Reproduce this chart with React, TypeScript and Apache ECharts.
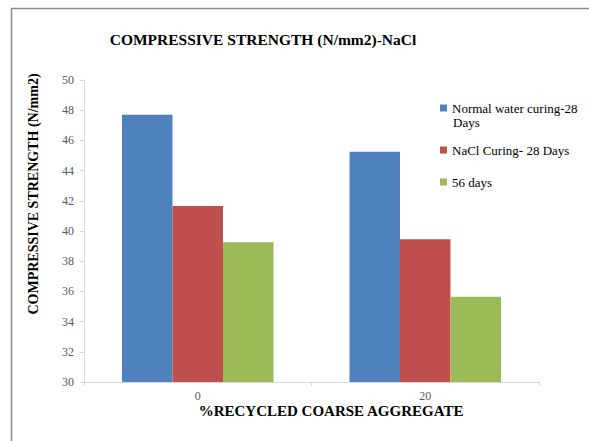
import React, { useEffect, useRef } from "react";
import * as echarts from "echarts";

const categories = ["0", "20"];
const seriesNames = ["Normal water curing-28 Days", "NaCl Curing- 28 Days", "56 days"];
const normalWater = [47.7, 45.25];
const naclCuring = [41.65, 39.45];
const days56 = [39.25, 35.65];
const colors = ["#4F81BD", "#C0504D", "#9BBB59"];

const FONT = "Liberation Serif";

export default function App() {
  const ref = useRef<HTMLDivElement>(null);
  useEffect(() => {
    const chart = echarts.init(ref.current!, null, { renderer: "svg" });
    const values = [normalWater, naclCuring, days56];
    const legendTops = [101, 143, 175];
    chart.setOption({
      animation: false,
      backgroundColor: "#ffffff",
      textStyle: { fontFamily: FONT },
      grid: { left: 84, right: 50, top: 80, bottom: 59, containLabel: false },
      legend: seriesNames.map((n, i) => ({
        left: 440,
        top: legendTops[i],
        padding: 0,
        itemWidth: 7,
        itemHeight: 7,
        icon: "rect",
        data: [n],
        formatter: (name: string) => (i === 0 ? "Normal water curing-28" : name),
        textStyle: { fontFamily: FONT, fontSize: 13, color: "#000", lineHeight: 14 },
        selectedMode: false,
      })),
      xAxis: {
        type: "category",
        data: categories,
        axisLine: { lineStyle: { color: "#d9d9d9", width: 1 } },
        axisTick: { show: true, length: 4, lineStyle: { color: "#d9d9d9" } },
        axisLabel: { fontFamily: FONT, fontSize: 12, color: "#595959", margin: 8, lineHeight: 12 },
      },
      yAxis: {
        type: "value",
        min: 30,
        max: 50,
        interval: 2,
        axisLine: { show: true, lineStyle: { color: "#d9d9d9", width: 1 } },
        axisTick: { show: true, length: 4, lineStyle: { color: "#d9d9d9" } },
        axisLabel: { fontFamily: FONT, fontSize: 12, color: "#595959", margin: 10 },
        splitLine: { show: false },
      },
      series: seriesNames.map((n, i) => ({
        name: n,
        type: "bar",
        data: values[i],
        barWidth: 50.5,
        barGap: "0%",
        itemStyle: { color: colors[i] },
      })),
      graphic: [
        {
          type: "rect",
          shape: { x: 11.5, y: 8.5, width: 620, height: 460 },
          style: { fill: "none", stroke: "#8a8a8a", lineWidth: 1.5 },
          silent: true,
        },
        {
          type: "text",
          x: 263,
          y: 39,
          style: {
            text: "COMPRESSIVE STRENGTH (N/mm2)-NaCl",
            fontFamily: FONT,
            fontSize: 15.5,
            fontWeight: "bold",
            fill: "#000",
            align: "center",
            verticalAlign: "middle",
          },
        },
        {
          type: "text",
          x: 33,
          y: 194,
          rotation: Math.PI / 2,
          style: {
            text: "COMPRESSIVE STRENGTH (N/mm2)",
            fontFamily: FONT,
            fontSize: 14,
            fontWeight: "bold",
            fill: "#000",
            align: "center",
            verticalAlign: "middle",
          },
        },
        {
          type: "text",
          x: 331,
          y: 411,
          style: {
            text: "%RECYCLED COARSE AGGREGATE",
            fontFamily: FONT,
            fontSize: 15,
            fontWeight: "bold",
            fill: "#000",
            align: "center",
            verticalAlign: "middle",
          },
        },
        {
          type: "text",
          x: 453,
          y: 122,
          style: {
            text: "Days",
            fontFamily: FONT,
            fontSize: 13,
            fill: "#000",
            align: "left",
            verticalAlign: "middle",
          },
        },
      ],
    });
    return () => chart.dispose();
  }, []);
  return (
    <div
      ref={ref}
      style={{ position: "absolute", left: 0, top: 0, width: 589, height: 441 }}
    />
  );
}
